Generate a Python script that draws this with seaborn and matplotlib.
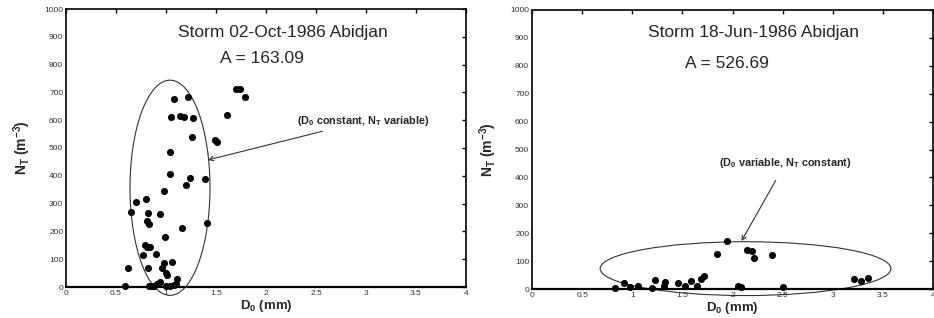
import numpy as np
import pandas as pd
import seaborn as sns
import matplotlib
matplotlib.use("Agg")
import matplotlib.pyplot as plt
from matplotlib.patches import Ellipse

# ---- data ----
oct_d0 = [0.59, 0.62, 0.65, 0.70, 0.80, 0.82, 0.935, 0.975, 0.81, 0.83, 0.79, 0.81, 0.84,
          0.77, 0.90, 0.82, 0.96, 0.98, 0.99, 1.00, 1.01, 1.06, 1.11, 0.94, 0.91, 0.83,
          0.86, 0.88, 1.00, 1.04, 1.08, 1.10, 1.035, 1.035, 1.05, 1.08, 1.14, 1.175,
          1.22, 1.27, 1.26, 1.235, 1.20, 1.156, 1.387, 1.41, 1.487, 1.514, 1.605, 1.70,
          1.74, 1.79]
oct_nt = [5, 70, 268, 304, 316, 265, 263, 347, 238, 226, 152, 143, 144,
          114, 120, 67, 70, 85, 179, 50, 42, 91, 30, 18, 10, 3,
          3, 3, 3, 4, 8, 12, 408, 484, 613, 676, 616, 613,
          684, 607, 540, 392, 368, 214, 389, 229, 528, 522, 620, 713,
          714, 684]

jun_d0 = [0.825, 0.918, 0.978, 1.054, 1.20, 1.227, 1.313, 1.33, 1.46, 1.53, 1.59, 1.646,
          1.686, 1.716, 1.845, 1.945, 2.058, 2.08, 2.14, 2.19, 2.21, 2.39, 2.50, 3.21,
          3.28, 3.355]
jun_nt = [5, 20, 8, 10, 4, 32, 10, 25, 20, 10, 29, 10,
          36, 45, 127, 172, 11, 8, 141, 136, 111, 122, 7, 35,
          30, 39]

x_ticks = [0, 0.5, 1, 1.5, 2, 2.5, 3, 3.5, 4]
x_tick_labels = ["0", "0.5", "1", "1.5", "2", "2.5", "3", "3.5", "4"]
y_ticks = list(range(0, 1001, 100))

titles = ["Storm 02-Oct-1986 Abidjan", "Storm 18-Jun-1986 Abidjan"]
a_texts = ["A = 163.09", "A = 526.69"]
notes = ["(D$_\\mathregular{0}$ constant, N$_\\mathregular{T}$ variable)",
         "(D$_\\mathregular{0}$ variable, N$_\\mathregular{T}$ constant)"]

sns.set_theme(style="white")
plt.rcParams["font.family"] = ["Liberation Sans", "DejaVu Sans"]
plt.rcParams["mathtext.default"] = "regular"

fig = plt.figure(figsize=(9.34, 3.18), dpi=100)
ax1 = fig.add_axes([66/934, 31/318, 400/934, 278/318])
ax2 = fig.add_axes([532/934, 29/318, 401/934, 279/318])

df1 = pd.DataFrame({"D0": oct_d0, "NT": oct_nt})
df2 = pd.DataFrame({"D0": jun_d0, "NT": jun_nt})

for ax, df in [(ax1, df1), (ax2, df2)]:
    sns.scatterplot(data=df, x="D0", y="NT", ax=ax, color="black", s=26,
                    edgecolor="black", linewidth=0, zorder=3, clip_on=False)
    ax.set_xlim(0, 4)
    ax.set_ylim(0, 1000)
    ax.set_xticks(x_ticks)
    ax.set_xticklabels(x_tick_labels)
    ax.set_yticks(y_ticks)
    ax.tick_params(axis="both", direction="in", length=3, width=1, labelsize=6,
                   labelcolor="#333333", top=True, right=True, pad=2, color="black")
    for sp in ax.spines.values():
        sp.set_visible(True)
        sp.set_color("black")
        sp.set_linewidth(1.2)
    ax.spines["bottom"].set_linewidth(1.6)
    ax.set_xlabel("D$_\\mathregular{0}$ (mm)", fontsize=9.5, fontweight="bold", labelpad=1)
    ax.set_ylabel("N$_\\mathregular{T}$ (m$^\\mathregular{-3}$)", fontsize=10,
                  fontweight="bold", labelpad=8)
    ax.grid(False)

# texts
ax1.text(2.17, 917, titles[0], fontsize=12.5, ha="center", va="center")
ax1.text(1.96, 822, a_texts[0], fontsize=12.5, ha="center", va="center")
ax2.text(2.21, 920, titles[1], fontsize=12.5, ha="center", va="center")
ax2.text(1.94, 809, a_texts[1], fontsize=12.5, ha="center", va="center")

# ellipses
e1 = Ellipse((1.04, 357), width=0.80, height=774, fill=False, edgecolor="#333333",
             linewidth=0.8, clip_on=False, zorder=2)
ax1.add_patch(e1)
e2 = Ellipse((2.13, 73), width=2.90, height=193, fill=False, edgecolor="#333333",
             linewidth=0.8, clip_on=False, zorder=2)
ax2.add_patch(e2)

# annotations
ax1.annotate(notes[0], xy=(1.42, 457), xytext=(2.31, 597), fontsize=7.8,
             fontweight="bold", ha="left", va="center",
             arrowprops=dict(arrowstyle="->", color="#333333", lw=0.8,
                             shrinkA=0, shrinkB=0))
ax2.annotate(notes[1], xy=(2.09, 172), xytext=(2.53, 452), fontsize=7.8,
             fontweight="bold", ha="center", va="center",
             arrowprops=dict(arrowstyle="->", color="#333333", lw=0.8,
                             shrinkA=6, shrinkB=0))

fig.savefig("out.png", dpi=100)
